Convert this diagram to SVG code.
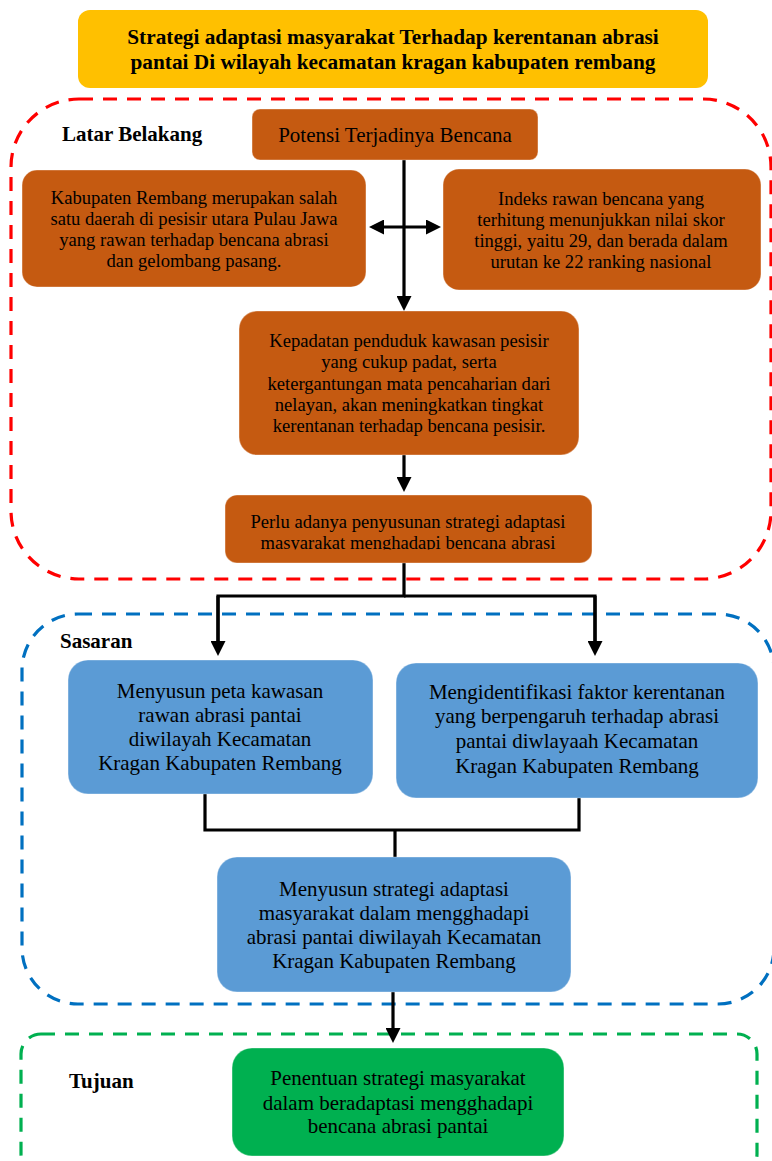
<svg xmlns="http://www.w3.org/2000/svg" width="772" height="1161" viewBox="0 0 772 1161">
<defs>
<style>
.t{font-family:"Liberation Serif","Times New Roman",serif;fill:#000;text-anchor:middle}
.title{font-size:21.3px;font-weight:bold}
.lbl{font-family:"Liberation Serif","Times New Roman",serif;font-size:21px;font-weight:bold;fill:#000}
.s{font-size:18.6px}
.m{font-size:21px}
.brown{fill:#C55A11;stroke:#ffffff;stroke-opacity:0.35;stroke-width:1.2}
.blue{fill:#5B9BD5;stroke:#ffffff;stroke-opacity:0.35;stroke-width:1.2}
.green{fill:#00B050;stroke:#ffffff;stroke-opacity:0.35;stroke-width:1.2}
.cont{fill:none;stroke-width:3.2;stroke-dasharray:14 10}
.conn{fill:none;stroke:#000;stroke-width:3.2}
.arr{marker-end:url(#ah)}
</style>
<marker id="ah" viewBox="0 0 15 15" refX="2" refY="7.5" markerWidth="15" markerHeight="15" markerUnits="userSpaceOnUse" orient="auto-start-reverse">
<path d="M0,0 L15,7.5 L0,15 z" fill="#000"/>
</marker>
<clipPath id="perluClip"><rect x="225" y="495" width="367" height="54.5"/></clipPath>
</defs>

<g id="containers">
<rect id="latar-belakang" class="cont" x="11" y="99" width="760" height="480" rx="68" ry="68" stroke="#FF0000"/>
<rect id="sasaran" class="cont" x="22" y="614" width="752" height="390" rx="56" ry="56" stroke="#0070C0"/>
<rect id="tujuan" class="cont" x="21" y="1034" width="736" height="140" rx="20" ry="20" stroke="#00B050"/>
<text class="lbl" x="62" y="141">Latar Belakang</text>
<text class="lbl" x="60" y="648">Sasaran</text>
<text class="lbl" x="69" y="1088">Tujuan</text>
</g>

<g id="connectors">
<path class="conn arr" d="M404,160 V298"/>
<path class="conn" d="M382,227 H428" marker-start="url(#ah)" marker-end="url(#ah)"/>
<path class="conn arr" d="M404,455 V479"/>
<path class="conn" d="M404,563 V596 H218 V643"/>
<path class="conn arr" d="M218,596 V643"/>
<path class="conn" d="M404,596 H595 V643"/>
<path class="conn arr" d="M595,596 V643"/>
<path class="conn" d="M205,794 V830 H579 V798"/>
<path class="conn" d="M395,830 V857"/>
<path class="conn arr" d="M393,992 V1030"/>
</g>

<g id="title">
<rect x="78" y="10" width="630" height="78" rx="12" ry="12" fill="#FFC000"/>
<text class="t title" x="393" y="44">Strategi adaptasi masyarakat Terhadap kerentanan abrasi</text>
<text class="t title" x="393" y="69">pantai Di wilayah kecamatan kragan kabupaten rembang</text>
</g>

<g id="potensi">
<rect class="brown" x="252" y="109" width="286" height="51" rx="8" ry="8"/>
<text class="t m" x="395" y="142">Potensi Terjadinya Bencana</text>
</g>

<g id="kabupaten">
<rect class="brown" x="22" y="170" width="344" height="117" rx="15" ry="15"/>
<text class="t s" x="194" y="204">Kabupaten Rembang merupakan salah</text>
<text class="t s" x="194" y="225">satu daerah di pesisir utara Pulau Jawa</text>
<text class="t s" x="194" y="246">yang rawan terhadap bencana abrasi</text>
<text class="t s" x="194" y="267">dan gelombang pasang.</text>
</g>

<g id="indeks">
<rect class="brown" x="443" y="169" width="318" height="121" rx="16" ry="16"/>
<text class="t s" x="601" y="205">Indeks rawan bencana yang</text>
<text class="t s" x="601" y="226">terhitung menunjukkan nilai skor</text>
<text class="t s" x="601" y="247">tinggi, yaitu 29, dan berada dalam</text>
<text class="t s" x="601" y="268">urutan ke 22 ranking nasional</text>
</g>

<g id="kepadatan">
<rect class="brown" x="239" y="311" width="340" height="144" rx="18" ry="18"/>
<text class="t s" x="409" y="347">Kepadatan penduduk kawasan pesisir</text>
<text class="t s" x="409" y="368">yang cukup padat, serta</text>
<text class="t s" x="409" y="390">ketergantungan mata pencaharian dari</text>
<text class="t s" x="409" y="411">nelayan, akan meningkatkan tingkat</text>
<text class="t s" x="409" y="432">kerentanan terhadap bencana pesisir.</text>
</g>

<g id="perlu">
<rect class="brown" x="225" y="495" width="367" height="68" rx="12" ry="12"/>
<g clip-path="url(#perluClip)">
<text class="t s" x="408" y="528">Perlu adanya penyusunan strategi adaptasi</text>
<text class="t s" x="408" y="549">masyarakat menghadapi bencana abrasi</text>
</g>
</g>

<g id="sasaran-1">
<rect class="blue" x="68" y="660" width="305" height="134" rx="20" ry="20"/>
<text class="t m" x="220" y="698">Menyusun peta kawasan</text>
<text class="t m" x="220" y="722">rawan abrasi pantai</text>
<text class="t m" x="220" y="746">diwilayah Kecamatan</text>
<text class="t m" x="220" y="770">Kragan Kabupaten Rembang</text>
</g>

<g id="sasaran-2">
<rect class="blue" x="396" y="663" width="362" height="135" rx="20" ry="20"/>
<text class="t m" x="577" y="699">Mengidentifikasi faktor kerentanan</text>
<text class="t m" x="577" y="723">yang berpengaruh terhadap abrasi</text>
<text class="t m" x="577" y="748">pantai diwlayaah Kecamatan</text>
<text class="t m" x="577" y="773">Kragan Kabupaten Rembang</text>
</g>

<g id="sasaran-3">
<rect class="blue" x="217" y="857" width="354" height="135" rx="20" ry="20"/>
<text class="t m" x="394" y="896">Menyusun strategi adaptasi</text>
<text class="t m" x="394" y="920">masyarakat dalam mengghadapi</text>
<text class="t m" x="394" y="944">abrasi pantai diwilayah Kecamatan</text>
<text class="t m" x="394" y="968">Kragan Kabupaten Rembang</text>
</g>

<g id="tujuan-box">
<rect class="green" x="232" y="1048" width="332" height="108" rx="20" ry="20"/>
<text class="t m" x="398" y="1085">Penentuan strategi masyarakat</text>
<text class="t m" x="398" y="1110">dalam beradaptasi mengghadapi</text>
<text class="t m" x="398" y="1133">bencana abrasi pantai</text>
</g>
</svg>
